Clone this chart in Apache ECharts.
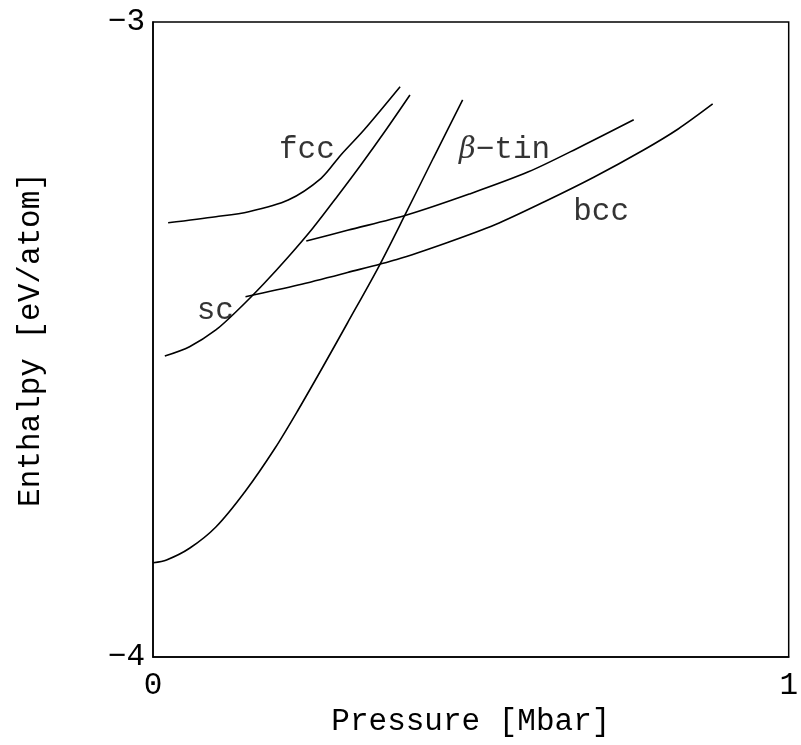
<!DOCTYPE html>
<html>
<head>
<meta charset="utf-8">
<script src="https://cdn.jsdelivr.net/npm/echarts@6/dist/echarts.min.js"></script>
<style>html,body{margin:0;padding:0;background:#fff;}#c{width:801px;height:745px;}</style>
</head>
<body>
<div id="c"></div>
<script>
const xTicks = [0, 1];
const yTicks = [-4, -3];
const fcc = [[0.0238,-3.3161],[0.0989,-3.3066],[0.1506,-3.2987],[0.2127,-3.2803],[0.2644,-3.2461],[0.2955,-3.2094],[0.3318,-3.1701],[0.3887,-3.1019]];
const sc = [[0.0186,-3.5260],[0.0575,-3.5113],[0.0989,-3.4850],[0.1351,-3.4520],[0.1739,-3.4126],[0.2127,-3.3701],[0.2516,-3.3244],[0.2904,-3.2740],[0.3292,-3.2220],[0.3680,-3.1677],[0.4042,-3.1150]];
const bcc = [[0.1455,-3.4326],[0.2283,-3.4142],[0.3059,-3.3945],[0.3835,-3.3740],[0.4612,-3.3480],[0.5388,-3.3189],[0.6165,-3.2827],[0.6941,-3.2441],[0.7717,-3.2016],[0.8261,-3.1685],[0.8804,-3.1291]];
const betaTin = [[0.2411,-3.345],[0.3059,-3.328],[0.3991,-3.304],[0.4974,-3.271],[0.5905,-3.236],[0.6734,-3.196],[0.7562,-3.154]];
const diamond = [[0.0005,-3.8515],[0.0213,-3.8472],[0.0575,-3.8288],[0.0989,-3.7953],[0.1455,-3.7386],[0.1921,-3.6709],[0.2283,-3.6110],[0.2671,-3.5433],[0.3059,-3.4740],[0.3556,-3.3843],[0.3964,-3.3039],[0.4410,-3.2142],[0.4871,-3.1228]];
const labelTexts = ['fcc', 'sc', '{g|β}\u2212tin', 'bcc'];
const labelCoords = [[0.242,-3.2016],[0.098,-3.455],[0.553,-3.2016],[0.705,-3.299]];

const FONT = 'Liberation Mono';
const FS = 31;
const chart = echarts.init(document.getElementById('c'), null, {renderer:'canvas'});
function lineSeries(data){
  return {type:'line', data:data, smooth:0.3, symbol:'none', lineStyle:{color:'#000', width:1.6}, silent:true, z:2};
}
chart.setOption({
  animation:false,
  backgroundColor:'#fff',
  grid:{left:153, right:4, top:22, bottom:88, show:true, borderColor:'#000', borderWidth:1.5, backgroundColor:'transparent'},
  xAxis:{type:'value', min:xTicks[0], max:xTicks[1], interval:1,
    name:'Pressure [Mbar]', nameLocation:'middle', nameGap:47,
    nameTextStyle:{fontFamily:FONT, fontSize:FS, color:'#000'},
    axisLine:{show:true, lineStyle:{color:'#000', width:1.5}}, axisTick:{show:false}, splitLine:{show:false},
    axisLabel:{fontFamily:FONT, fontSize:FS, color:'#000', margin:13}},
  yAxis:{type:'value', min:yTicks[0], max:yTicks[1], interval:1,
    name:'Enthalpy [eV/atom]', nameLocation:'middle', nameGap:107,
    nameTextStyle:{fontFamily:FONT, fontSize:FS, color:'#000'},
    axisLine:{show:true, lineStyle:{color:'#000', width:1.5}}, axisTick:{show:false}, splitLine:{show:false},
    axisLabel:{fontFamily:FONT, fontSize:FS, color:'#000', margin:8, formatter:v=>String(v).replace('-','\u2212')}},
  series:[
    lineSeries(fcc), lineSeries(sc), lineSeries(bcc), lineSeries(betaTin), lineSeries(diamond),
    {type:'scatter', symbolSize:0, silent:true,
     data:labelCoords.map((c,i)=>({value:c, name:labelTexts[i]})),
     label:{show:true, position:'inside', formatter:p=>p.name, fontFamily:FONT, fontSize:FS, color:'#000',
       rich:{g:{fontFamily:'DejaVu Serif', fontStyle:'italic', fontSize:29, color:'#000'}}}}
  ]
});
</script>
</body>
</html>
